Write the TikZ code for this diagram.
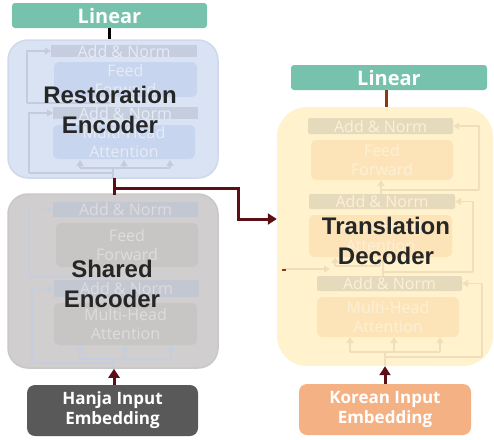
\documentclass[tikz,border=0pt]{standalone}
\usepackage{fontspec}
\setmainfont{Open Sans}
\newfontfamily\arialfont{Liberation Sans}
\usetikzlibrary{arrows.meta}
\definecolor{tealc}{HTML}{76C2AC}
\definecolor{restfill}{HTML}{DAE3F3}
\definecolor{restedge}{HTML}{CFD9EC}
\definecolor{restbar}{HTML}{C5CDDE}
\definecolor{restin}{HTML}{C8D5EE}
\definecolor{resttxt}{HTML}{E6ECF6}
\definecolor{restarr}{HTML}{C3CBDC}
\definecolor{shfill}{HTML}{D0CECE}
\definecolor{shedge}{HTML}{C9C7C7}
\definecolor{shbar}{HTML}{C3C7D2}
\definecolor{shin}{HTML}{C8C5C5}
\definecolor{shtxt}{HTML}{DEDCDC}
\definecolor{sharr}{HTML}{C6CEDE}
\definecolor{decfill}{HTML}{FFF2CC}
\definecolor{decbar}{HTML}{E5DABC}
\definecolor{decin}{HTML}{FCE4B8}
\definecolor{dectxt}{HTML}{FDF0D8}
\definecolor{decarr}{HTML}{EFDFBA}
\definecolor{darktxt}{HTML}{262626}
\definecolor{hanjac}{HTML}{595959}
\definecolor{koreanc}{HTML}{F4B183}
\definecolor{connc}{HTML}{5C1015}
\definecolor{brownc}{HTML}{8B3A14}
\tikzset{
  linbox/.style={fill=tealc, rounded corners=3, minimum width=195, minimum height=25, inner sep=0, text=white, font=\bfseries\fontsize{20}{20}\selectfont},
  bigbox/.style={rounded corners=20, inner sep=0},
  embbox/.style={rounded corners=8, minimum width=171, minimum height=51, inner sep=0, text=white, align=center, font=\bfseries\fontsize{17}{20}\selectfont},
  title/.style={align=center, text=darktxt, font=\arialfont\bfseries\fontsize{24}{30}\selectfont},
  sub/.style={inner sep=0, align=center, font=\fontsize{16}{19}\selectfont},
  rbar/.style={sub, fill=restbar, text=resttxt},
  rin/.style={sub, fill=restin, text=resttxt, rounded corners=5},
  sbar/.style={sub, fill=shbar, text=shtxt},
  sin/.style={sub, fill=shin, text=shtxt, rounded corners=5},
  dbar/.style={sub, fill=decbar, text=dectxt, rounded corners=2},
  din/.style={sub, fill=decin, text=dectxt, rounded corners=5},
  faint/.style={line width=1.5, -{Triangle[length=6,width=7]}},
  fline/.style={line width=1.5},
  conn/.style={draw=connc, line width=3},
  tip/.style={-{Triangle[length=9,width=11]}}
}
\begin{document}
\begin{tikzpicture}[x=1pt,y=-1pt]
\useasboundingbox (0,0) rectangle (494,439);
% top-left linear
\node[linbox] (linL) at (109.5,15.5) {Linear};
% restoration encoder
\node[bigbox, fill=restfill, draw=restedge, line width=1.5, minimum width=210, minimum height=138] (rest) at (113,109) {};
\node[rbar, minimum width=146, minimum height=12] (rb1) at (124,51) {Add \& Norm};
\node[rin, minimum width=143, minimum height=35] (rf) at (125.5,79.5) {Feed\\Forward};
\node[rbar, minimum width=145, minimum height=12] (rb2) at (125.5,113) {Add \& Norm};
\node[rin, minimum width=142, minimum height=34] (rm) at (124,142) {Multi-Head\\Attention};
\begin{scope}[draw=restarr, color=restarr]
\draw[fline] (110,103) -- (27,103);
\draw[faint] (27,103) -- (27,51) -- (rb1.west);
\draw[fline] (113,173) -- (29,173);
\draw[faint] (29,173) -- (29,113) -- (rb2.west);
\draw[fline] (113,178) -- (113,168);
\draw[fline] (80,168) -- (170,168);
\draw[faint] (80,168) -- (80,160);
\draw[faint] (124,168) -- (124,160);
\draw[faint] (170,168) -- (170,160);
\end{scope}
\node[title] (restT) at (110,110) {Restoration\\Encoder};
% shared encoder
\node[bigbox, fill=shfill, draw=shedge, line width=1.5, minimum width=210, minimum height=174] (shared) at (113,281) {};
\node[sbar, minimum width=145, minimum height=15] (sb1) at (125.5,209.5) {Add \& Norm};
\node[sin, minimum width=142, minimum height=44] (sf) at (127,245) {Feed\\Forward};
\node[sbar, minimum width=145, minimum height=17] (sb2) at (126.5,288.5) {Add \& Norm};
\node[sin, minimum width=143, minimum height=42] (sm) at (125.5,324) {Multi-Head\\Attention};
\begin{scope}[draw=sharr, color=sharr]
\draw[fline] (112,277) -- (29,277);
\draw[faint] (29,277) -- (29,209.5) -- (sb1.west);
\draw[fline] (113,363) -- (32,363);
\draw[faint] (32,363) -- (32,288.5) -- (sb2.west);
\draw[fline] (113,368) -- (113,359);
\draw[fline] (80,359) -- (171,359);
\draw[faint] (80,359) -- (80,345);
\draw[faint] (125,359) -- (125,345);
\draw[faint] (171,359) -- (171,345);
\end{scope}
\node[title] (sharedT) at (112,284) {Shared\\Encoder};
% hanja embedding
\node[embbox, fill=hanjac] (hanja) at (112.5,410.5) {Hanja Input\\Embedding};
\draw[conn, tip] ([xshift=1.5]hanja.north) -- ([xshift=1.5]hanja.north |- shared.south);
% right linear
\node[linbox, minimum width=196] (linR) at (389,77.5) {Linear};
% decoder
\node[bigbox, rounded corners=30, fill=decfill, minimum width=216, minimum height=259] (dec) at (385,236.5) {};
\node[dbar, minimum width=145, minimum height=16] (db1) at (380.5,126) {Add \& Norm};
\node[din, minimum width=142, minimum height=40] (df) at (382,160) {Feed\\Forward};
\node[dbar, minimum width=146, minimum height=15] (db2) at (382,201.5) {Add \& Norm};
\node[din, minimum width=143, minimum height=42] (dm2) at (380.5,236) {Multi-Head\\Attention};
\node[dbar, minimum width=145, minimum height=15] (db3) at (389.5,283.5) {Add \& Norm};
\node[din, minimum width=142, minimum height=40] (dm1) at (388,317) {Multi-Head\\Attention};
\begin{scope}[draw=decarr, color=decarr]
\draw[faint] (381,194) -- (381,180);
\draw[fline] (381,190) -- (479,190);
\draw[faint] (479,190) -- (479,126) -- (db1.east);
\draw[fline] (383,272) -- (473,272);
\draw[faint] (473,272) -- (473,201.5) -- (db2.east);
\draw[fline] (383,276) -- (383,257);
\draw[fline] (385,357) -- (482,357);
\draw[faint] (482,357) -- (482,283.5) -- (db3.east);
\draw[fline] (385,366) -- (385,352);
\draw[fline] (350,352) -- (440,352);
\draw[faint] (350,352) -- (350,337);
\draw[faint] (394,352) -- (394,337);
\draw[faint] (440,352) -- (440,337);
\draw[faint] (284,269) -- (330,269);
\draw[fline] (335,266) -- (380,266);
\draw[faint] (335,266) -- (335,257);
\draw[faint] (380,266) -- (380,257);
\end{scope}
\fill[brownc] (282,268.5) rectangle (286,270.5);
\node[title] (decT) at (386,241) {Translation\\Decoder};
% korean embedding
\node[embbox, fill=koreanc, minimum width=172] (korean) at (385,409.5) {Korean Input\\Embedding};
\draw[conn, tip] (korean.north) -- (korean.north |- dec.south);
% linear connections
\draw[line width=3, black] ([xshift=-0.5]linL.south) -- ([xshift=-0.5]linL.south |- rest.north);
\draw[line width=3, brownc] ([xshift=-3]linR.south) -- ([xshift=-3]linR.south |- dec.north);
% restoration -> decoder connector
\coordinate (tb) at (114,188);
\coordinate (bend) at (238,188);
\draw[conn] (114,178) -- (114,195);
\draw[conn, tip] (tb) -- (bend) |- (dec.west |- 0,219);
\end{tikzpicture}
\end{document}
